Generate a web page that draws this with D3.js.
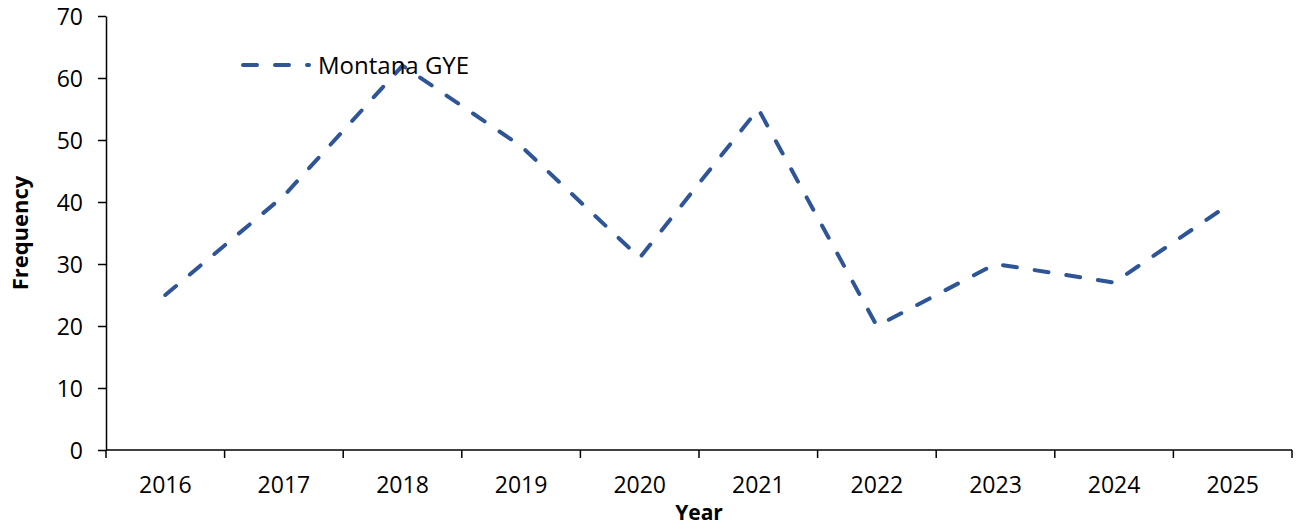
<!DOCTYPE html>
<html>
<head>
<meta charset="utf-8">
<script src="https://cdn.jsdelivr.net/npm/d3@7"></script>
<style>
  html, body { margin: 0; padding: 0; background: #fff; }
  svg { display: block; }
  text { font-family: "Open Sans", "Noto Sans", sans-serif; fill: #000; }
</style>
</head>
<body>
<svg id="chart" width="1305" height="527"></svg>
<script>
const years = ["2016","2017","2018","2019","2020","2021","2022","2023","2024","2025"];
const montanaGYE = [25, 41, 62, 49, 31, 55, 20, 30, 27, 40];
const yTicks = [0, 10, 20, 30, 40, 50, 60, 70];
const seriesName = "Montana GYE";
const xTitle = "Year";
const yTitle = "Frequency";

const W = 1305, H = 527;
const margin = { left: 106, right: 13, top: 16, bottom: 77 };
const svg = d3.select("#chart");

const x = d3.scaleBand().domain(years).range([margin.left, W - margin.right]).paddingInner(0).paddingOuter(0);
const y = d3.scaleLinear().domain([0, 70]).range([H - margin.bottom, margin.top]);

// Y axis
const yAxis = d3.axisLeft(y).tickValues(yTicks).tickSize(8).tickPadding(15).tickSizeOuter(0);
const gy = svg.append("g").attr("transform", `translate(${margin.left},0)`).call(yAxis);
gy.select(".domain").attr("stroke", "#000").attr("stroke-width", 1.5);
gy.selectAll(".tick line").attr("stroke", "#000").attr("stroke-width", 1.5);
gy.selectAll(".tick text").style("font-size", "23px").attr("dy", "0.36em");

// X axis (ticks at category boundaries)
const gx = svg.append("g").attr("transform", `translate(0,${H - margin.bottom})`);
gx.append("line")
  .attr("x1", x.range()[0]).attr("x2", x.range()[1])
  .attr("stroke", "#000").attr("stroke-width", 1.5);
const boundaries = years.map(d => x(d)).concat([x(years[years.length - 1]) + x.bandwidth()]);
gx.selectAll("line.tk").data(boundaries).enter().append("line")
  .attr("class", "tk")
  .attr("x1", d => d).attr("x2", d => d)
  .attr("y1", 0).attr("y2", 8)
  .attr("stroke", "#000").attr("stroke-width", 1.5);
gx.selectAll("text.lbl").data(years).enter().append("text")
  .attr("class", "lbl")
  .attr("x", d => x(d) + x.bandwidth() / 2)
  .attr("y", 43)
  .attr("text-anchor", "middle")
  .style("font-size", "23px")
  .text(d => d);

// Axis titles
svg.append("text")
  .attr("x", (x.range()[0] + x.range()[1]) / 2)
  .attr("y", 520)
  .attr("text-anchor", "middle")
  .style("font-size", "21px").style("font-weight", "bold")
  .text(xTitle);
svg.append("text")
  .attr("transform", `translate(28,${(y.range()[0] + y.range()[1]) / 2}) rotate(-90)`)
  .attr("text-anchor", "middle")
  .style("font-size", "22px").style("font-weight", "bold")
  .text(yTitle);

// Line
const line = d3.line()
  .x((d, i) => x(years[i]) + x.bandwidth() / 2)
  .y(d => y(d));
svg.append("path")
  .datum(montanaGYE)
  .attr("d", line)
  .attr("fill", "none")
  .attr("stroke", "#2F5597")
  .attr("stroke-width", 4)
  .attr("stroke-dasharray", "14 18")
  .attr("stroke-linecap", "round")
  .attr("stroke-linejoin", "round");

// Legend
const lg = svg.append("g").attr("transform", "translate(243,65)");
lg.append("line")
  .attr("x1", 0).attr("x2", 66)
  .attr("stroke", "#2F5597").attr("stroke-width", 4)
  .attr("stroke-dasharray", "14 18").attr("stroke-linecap", "round");
lg.append("text")
  .attr("x", 75).attr("y", 0).attr("dy", "0.36em")
  .style("font-size", "24px")
  .text(seriesName);
</script>
</body>
</html>
